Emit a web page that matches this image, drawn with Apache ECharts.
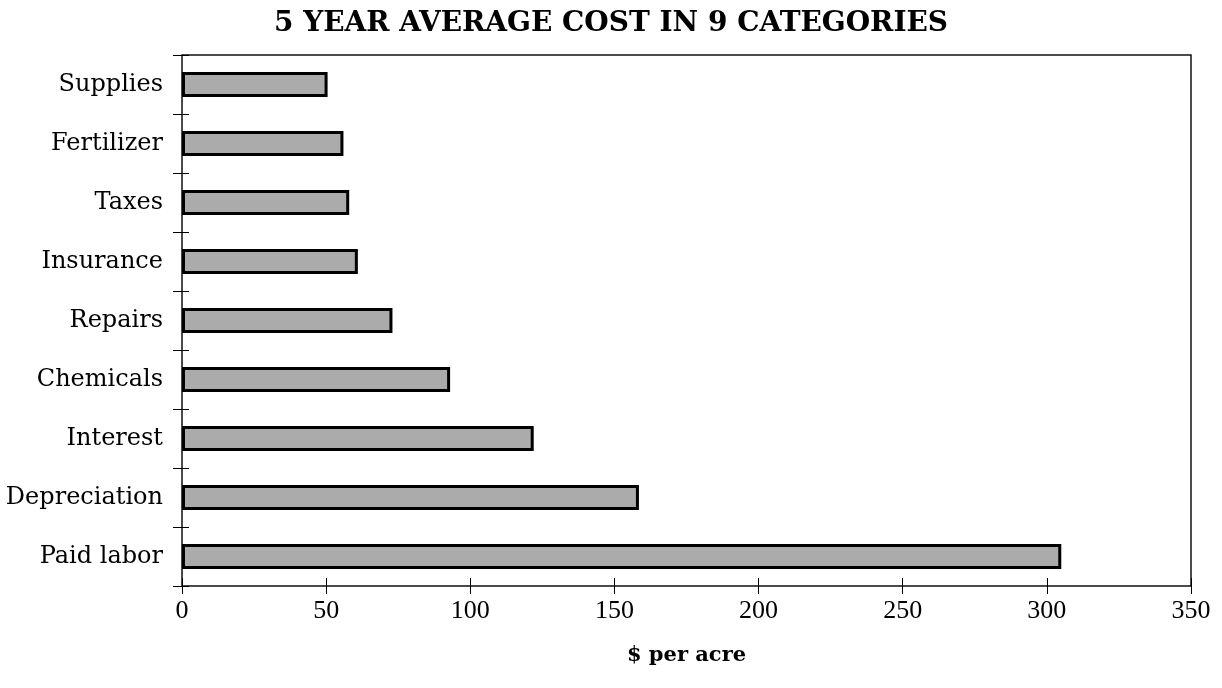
<!DOCTYPE html>
<html>
<head>
<meta charset="utf-8">
<title>5 Year Average Cost in 9 Categories</title>
<script src="https://cdn.jsdelivr.net/npm/echarts@6/dist/echarts.min.js"></script>
<style>
  html, body { margin: 0; padding: 0; background: #ffffff; }
  #chart { width: 1222px; height: 688px; }
</style>
</head>
<body>
<div id="chart"></div>
<script>
// Cost categories, listed bottom to top as the axis draws them
const categories = ['Paid labor', 'Depreciation', 'Interest', 'Chemicals', 'Repairs',
                    'Insurance', 'Taxes', 'Fertilizer', 'Supplies'];
// Five-year average cost, $ per acre
const costs = [305, 158.5, 122, 93, 73, 61, 58, 56, 50.5];
// Horizontal axis range
const xMin = 0;
const xMax = 350;
const xStep = 50;

const serif = 'DejaVu Serif';
const numFont = 'Liberation Serif';
const chart = echarts.init(document.getElementById('chart'));

// The frame comes from the grid border; the axes are shifted inward by half
// their tick length so that each tick crosses the frame line.
chart.setOption({
  backgroundColor: '#ffffff',
  animation: false,
  title: {
    text: '5 YEAR AVERAGE COST IN 9 CATEGORIES',
    left: 'center',
    top: 5,
    textStyle: { fontFamily: serif, fontWeight: 'bold', fontSize: 28, color: '#000' }
  },
  grid: {
    left: 182, right: 31, top: 55, bottom: 102,
    show: true, borderColor: '#111', borderWidth: 1.5, backgroundColor: 'transparent'
  },
  xAxis: {
    type: 'value', min: xMin, max: xMax, interval: xStep, position: 'bottom',
    offset: -8,
    name: '$ per acre', nameLocation: 'middle', nameGap: 67,
    nameTextStyle: { fontFamily: serif, fontWeight: 'bold', fontSize: 21, color: '#000' },
    axisLine: { show: false },
    axisTick: { show: true, length: 16, lineStyle: { color: '#000', width: 1 } },
    axisLabel: { margin: 20, fontFamily: numFont, fontSize: 26, color: '#000' },
    splitLine: { show: false }
  },
  yAxis: {
    type: 'category', data: categories, position: 'left',
    offset: -7,
    axisLine: { show: false },
    axisTick: { show: true, length: 16, lineStyle: { color: '#000', width: 1 } },
    axisLabel: { margin: 26, fontFamily: serif, fontSize: 24, color: '#000' }
  },
  series: [{
    type: 'bar',
    data: costs,
    barWidth: 25,
    itemStyle: { color: '#ababab', borderColor: '#000', borderWidth: 3 }
  }]
});
</script>
</body>
</html>
